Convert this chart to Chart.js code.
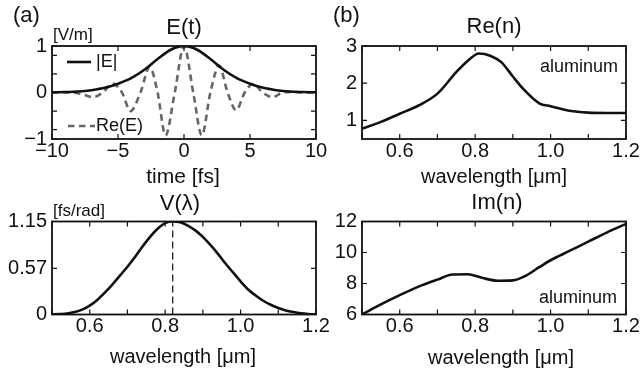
<!DOCTYPE html>
<html><head><meta charset="utf-8">
<script src="https://cdn.jsdelivr.net/npm/chart.js@4/dist/chart.umd.min.js"></script>
<style>
html,body{margin:0;padding:0;background:#fff;width:640px;height:372px;overflow:hidden;position:relative}
canvas{position:absolute}
</style></head><body>
<canvas id="ca" width="330" height="190" style="left:0;top:0"></canvas>
<canvas id="cb" width="340" height="190" style="left:320px;top:0"></canvas>
<canvas id="cc" width="330" height="186" style="left:0;top:186px"></canvas>
<canvas id="cd" width="340" height="186" style="left:320px;top:186px"></canvas>
<script>
// ---------- data ----------
const timeFs = [-10,-9,-8,-7,-6,-5,-4,-3,-2,-1,0,1,2,3,4,5,6,7,8,9,10];
const absE   = [0.005,0.01,0.02,0.05,0.10,0.19,0.31,0.49,0.72,0.92,1.0,0.92,0.72,0.49,0.31,0.19,0.10,0.05,0.02,0.01,0.005];
const reETime = [-10,-9,-8.2,-7.6,-6.9,-6.15,-5.4,-4.7,-4.05,-3.3,-2.6,-2.0,-1.4,-0.7,0,0.7,1.35,2.0,2.65,3.3,3.95,4.6,5.25,5.95,6.7,7.5,8.3,9,10];
const reE     = [0,0,-0.01,-0.05,-0.10,0,0.19,0,-0.40,0,0.55,0,-0.92,0,1.0,0,-0.92,0,0.58,0,-0.38,0,0.19,0,-0.10,0,0.01,0,0];

const wlV = [0.50,0.52,0.54,0.56,0.58,0.60,0.62,0.64,0.66,0.68,0.70,0.72,0.74,0.76,0.78,0.80,0.82,0.84,0.86,0.88,0.90,0.92,0.94,0.96,0.98,1.00,1.02,1.04,1.06,1.08,1.10,1.12,1.14,1.16,1.18,1.20];
const vLambda = [0.0,0.005,0.012,0.03,0.06,0.11,0.18,0.27,0.37,0.48,0.59,0.71,0.84,0.96,1.06,1.13,1.15,1.14,1.10,1.04,0.96,0.86,0.75,0.63,0.52,0.41,0.31,0.235,0.17,0.12,0.08,0.05,0.03,0.015,0.006,0.0];
const peakWl = 0.82;

const wlRe = [0.50,0.55,0.60,0.65,0.70,0.75,0.78,0.81,0.84,0.87,0.90,0.93,0.97,1.00,1.05,1.10,1.15,1.20];
const reN  = [0.78,0.96,1.18,1.40,1.72,2.30,2.60,2.80,2.74,2.56,2.18,1.82,1.46,1.38,1.26,1.21,1.20,1.20];

const wlIm = [0.50,0.55,0.60,0.65,0.70,0.74,0.78,0.82,0.86,0.90,0.93,0.97,1.00,1.05,1.10,1.15,1.20];
const imN  = [6.00,6.65,7.25,7.80,8.25,8.58,8.60,8.35,8.18,8.20,8.45,9.05,9.50,10.10,10.70,11.30,11.85];

const timeTicks = [-10,-5,0,5,10];
const eTicks = [-1,-0.8,-0.4,0,0.4,0.8,1];
const eLabels = [-1,0,1];
const wlTicks = [0.5,0.6,0.7,0.8,0.9,1.0,1.1,1.2];
const wlLabels = [0.6,0.8,1.0,1.2];
const reNTicks = [1,2,3];
const vTicks = [0,0.57,1.15];
const imNTicks = [6,8,10,12];

// ---------- helpers ----------
const FONT = '"Liberation Sans", Arial, Helvetica, sans-serif';
const INK = '#111';
const pts = (xs, ys) => xs.map((x,i)=>({x, y: ys[i]}));
const near = (a,b)=>Math.abs(a-b)<1e-9;
const fmtMinus = v => v<0 ? '\u2212'+Math.abs(v) : String(v);

const boxPlugin = {
  id:'boxTicks',
  afterDatasetsDraw(chart){
    const {ctx, chartArea:a} = chart;
    const xs = chart.scales.x, ys = chart.scales.y;
    const L = 5;
    ctx.save();
    ctx.strokeStyle = INK; ctx.lineWidth = 1.2;
    ctx.beginPath();
    xs.ticks.forEach(t=>{const p = xs.getPixelForValue(t.value);
      ctx.moveTo(p,a.bottom); ctx.lineTo(p,a.bottom-L);
      ctx.moveTo(p,a.top); ctx.lineTo(p,a.top+L);});
    ys.ticks.forEach(t=>{const p = ys.getPixelForValue(t.value);
      ctx.moveTo(a.left,p); ctx.lineTo(a.left+L,p);
      ctx.moveTo(a.right,p); ctx.lineTo(a.right-L,p);});
    ctx.stroke();
    ctx.lineWidth = 1.8;
    ctx.strokeRect(a.left, a.top, a.right-a.left, a.bottom-a.top);
    ctx.restore();
  }
};
const textPlugin = {
  id:'texts',
  afterDraw(chart, args, opts){
    const ctx = chart.ctx;
    ctx.save();
    (opts.legend||[]).forEach(l=>{
      ctx.beginPath(); ctx.strokeStyle = l.color; ctx.lineWidth = l.width;
      ctx.setLineDash(l.dash||[]); ctx.moveTo(l.x1,l.y); ctx.lineTo(l.x2,l.y); ctx.stroke();
    });
    ctx.setLineDash([]);
    ctx.fillStyle = INK; ctx.textBaseline = 'middle';
    (opts.items||[]).forEach(it=>{
      ctx.font = it.size+'px '+FONT;
      ctx.textAlign = it.align||'center';
      ctx.fillText(it.t, it.x, it.y);
    });
    ctx.restore();
  }
};
Chart.register(boxPlugin, textPlugin);

function axis(min, max, tickVals, labelFn, fitSize, isX){
  const o = {
    type:'linear', min, max,
    grid:{display:false, drawTicks:false},
    border:{display:false},
    afterBuildTicks(s){ s.ticks = tickVals.map(v=>({value:v})); },
    ticks:{autoSkip:false, maxRotation:0, minRotation:0, padding: isX?0:5, color:INK,
      font:{family:FONT, size:20}, callback: labelFn}
  };
  if (isX) o.afterFit = s => { s.height = fitSize; };
  else o.afterFit = s => { s.width = fitSize; };
  return o;
}
function line(data, extra){
  return Object.assign({data, borderColor:INK, borderWidth:2.6, pointRadius:0,
    cubicInterpolationMode:'monotone', fill:false}, extra||{});
}
function makeChart(id, datasets, x, y, pad, texts){
  return new Chart(document.getElementById(id), {
    type:'line',
    data:{datasets},
    options:{
      responsive:false, animation:false, devicePixelRatio:1,
      layout:{padding:pad},
      plugins:{legend:{display:false}, tooltip:{enabled:false}, title:{display:false}, texts},
      scales:{x, y}
    }
  });
}
const wlLabel = v => wlLabels.some(l=>near(l,v)) ? v.toFixed(1) : '';

// (a) E(t)
makeChart('ca', [
  line(pts(timeFs, absE)),
  line(pts(reETime, reE), {borderColor:'#666', borderDash:[6.5,4.5], borderWidth:2.6})
],
  axis(-10,10,timeTicks, v=>fmtMinus(v), 51, true),
  axis(-1,1,eTicks, v=>eLabels.some(l=>near(l,v))?fmtMinus(v):'', 52, false),
  {left:0, top:46, right:14, bottom:0},
  {items:[
    {t:'(a)', x:13, y:16, size:22, align:'left'},
    {t:'E(t)', x:184, y:28, size:22},
    {t:'[V/m]', x:53, y:35, size:17, align:'left'},
    {t:'time [fs]', x:183, y:177, size:21},
    {t:'|E|', x:96, y:62, size:18, align:'left'},
    {t:'Re(E)', x:96, y:126, size:18, align:'left'}
  ], legend:[
    {x1:67, x2:91, y:62, color:INK, width:2.6},
    {x1:68, x2:95, y:126, color:'#666', width:2.6, dash:[6.5,4.5]}
  ]}
);

// (b) Re(n)
makeChart('cb', [ line(pts(wlRe, reN)) ],
  axis(0.5,1.2,wlTicks, wlLabel, 51, true),
  axis(0.5,3,reNTicks, v=>String(v), 42, false),
  {left:0, top:46, right:34, bottom:0},
  {items:[
    {t:'(b)', x:13, y:16, size:22, align:'left'},
    {t:'Re(n)', x:174, y:27, size:22},
    {t:'aluminum', x:259, y:67, size:18},
    {t:'wavelength [\u03bcm]', x:174, y:177, size:20}
  ]}
);

// (c) V(lambda)
makeChart('cc', [
  line(pts(wlV, vLambda)),
  line([{x:peakWl, y:0},{x:peakWl, y:1.15}], {borderWidth:1.2, borderDash:[7,4], cubicInterpolationMode:'default', tension:0})
],
  axis(0.5,1.2,wlTicks, wlLabel, 57.5, true),
  axis(0,1.15,vTicks, v=>String(v), 52, false),
  {left:0, top:35.5, right:14, bottom:0},
  {items:[
    {t:'V(\u03bb)', x:180, y:18, size:22},
    {t:'[fs/rad]', x:53, y:25, size:17, align:'left'},
    {t:'wavelength [\u03bcm]', x:183, y:171, size:20}
  ]}
);

// (d) Im(n)
makeChart('cd', [ line(pts(wlIm, imN)) ],
  axis(0.5,1.2,wlTicks, wlLabel, 57.5, true),
  axis(6,12,imNTicks, v=>String(v), 42, false),
  {left:0, top:35.5, right:34, bottom:0},
  {items:[
    {t:'Im(n)', x:177, y:17, size:22},
    {t:'aluminum', x:258, y:112, size:18},
    {t:'wavelength [\u03bcm]', x:181, y:172, size:20}
  ]}
);
</script>
</body></html>
